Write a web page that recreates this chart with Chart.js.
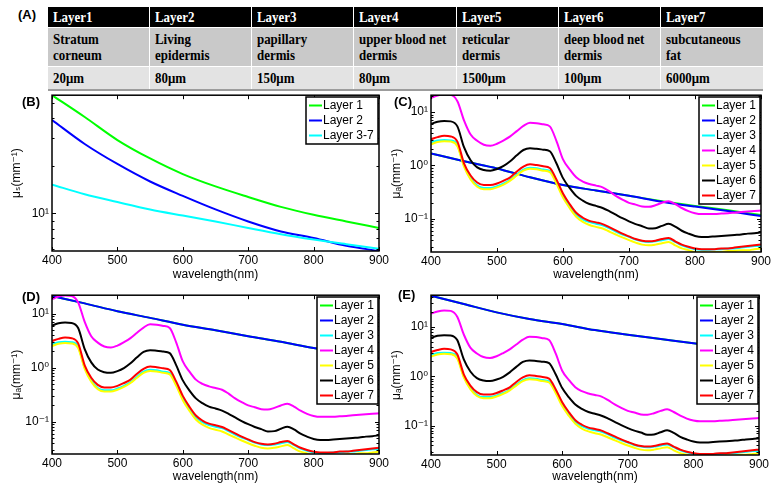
<!DOCTYPE html>
<html><head><meta charset="utf-8">
<script src="https://cdn.jsdelivr.net/npm/chart.js@4.4.0/dist/chart.umd.min.js"></script>
<style>
html,body{margin:0;padding:0;background:#fff;}
#wrap{position:relative;width:776px;height:488px;overflow:hidden;}
canvas{position:absolute;}
.lbl{position:absolute;font:bold 13px "Liberation Sans",Arial,sans-serif;line-height:13px;color:#000;z-index:5;}
#tbl{position:absolute;left:48px;top:7px;width:715px;display:grid;grid-template-columns:repeat(7,1fr);grid-template-rows:21px 39px 22px;border-bottom:2px solid #9c9c9c;}
.c{box-sizing:border-box;font:bold 15px "Liberation Serif","Times New Roman",serif;line-height:16px;padding-left:5px;display:flex;align-items:center;border-right:1px solid #fff;border-bottom:1px solid #fff;white-space:pre;overflow:hidden;}
.c span{display:inline-block;transform:scaleX(0.86);transform-origin:0 50%;white-space:pre;}
.h{background:#000;color:#fff;}
.d{background:#c9c9c9;color:#000;}
.s{background:#e3e3e3;color:#000;border-bottom:none;}
</style></head>
<body>
<div id="wrap">
  <div id="tbl"></div>
  <div class="lbl" style="left:18px;top:8px;">(A)</div>
  <div class="lbl" style="left:22px;top:95px;">(B)</div>
  <div class="lbl" style="left:394px;top:95px;">(C)</div>
  <div class="lbl" style="left:22px;top:290px;">(D)</div>
  <div class="lbl" style="left:398px;top:288px;">(E)</div>
  <canvas id="cB" width="400" height="200" style="left:0;top:85px;"></canvas>
  <canvas id="cC" width="396" height="200" style="left:380px;top:85px;"></canvas>
  <canvas id="cD" width="400" height="200" style="left:0;top:285px;"></canvas>
  <canvas id="cE" width="396" height="200" style="left:380px;top:285px;"></canvas>
</div>
<script>
// ---------- Table (A) ----------
const layerNames = ["Layer1","Layer2","Layer3","Layer4","Layer5","Layer6","Layer7"];
const layerDescs = ["Stratum\ncorneum","Living\nepidermis","papillary\ndermis","upper blood net\ndermis","reticular\ndermis","deep blood net\ndermis","subcutaneous\nfat"];
const layerThick = ["20μm","80μm","150μm","80μm","1500μm","100μm","6000μm"];

// ---------- Panel (B): scattering ----------
const wlB = [400,450,500,550,600,650,700,750,800,850,900];
const musL1 = [55.6,40.5,29.0,22.2,17.7,14.8,12.7,11.0,9.8,8.9,8.1];
const musL2 = [38.8,27.4,20.5,15.9,12.9,10.6,8.9,7.7,7.0,6.25,5.8];
const musL37 = [15.2,13.2,11.8,10.6,9.7,8.9,8.1,7.4,6.85,6.4,6.0];

// ---------- Epidermal absorption (Layer 1/2) in C, D, E ----------
const wlEpi = [400,450,500,550,600,650,700,750,800,850,900];
const muaL1C = [1.68,1.2,0.88,0.6,0.43,0.34,0.27,0.215,0.175,0.145,0.118];
const muaL2C = [1.68,1.2,0.88,0.6,0.43,0.34,0.27,0.21,0.17,0.14,0.113];
const muaEpiD = [21,15.4,11.0,8.3,6.2,4.9,3.8,3.0,2.3,1.85,1.5];
const muaEpiE = [42.6,28.9,19.6,14.4,11.4,8.6,6.95,5.68,4.64,3.85,3.2];

// ---------- Dermal / fat absorption (Layers 3-7) ----------
const wl = [400,410,420,430,440,450,460,470,480,490,500,510,520,530,540,550,560,570,580,590,600,610,620,630,640,650,660,670,680,690,700,710,720,730,740,750,760,770,780,790,800,810,820,830,840,850,860,870,880,890,900];
const muaL3 = [2.7,2.95,3.0,2.95,2.45, 1.0,0.58,0.42,0.38,0.38, 0.41,0.46,0.54,0.68,0.84, 0.91,0.89,0.84,0.79,0.49, 0.27,0.175,0.12,0.098,0.087, 0.081,0.076,0.067,0.058,0.051, 0.046,0.041,0.038,0.037,0.038, 0.04,0.042,0.037,0.032,0.029, 0.027,0.0265,0.0265,0.027,0.027, 0.028,0.028,0.029,0.03,0.031,0.031];
const muaL4 = [18.5,20.5,21.5,21,16, 7,3.8,2.9,2.45,2.35, 2.55,2.95,3.5,4.4,5.5, 6.3,6.2,5.9,5.4,2.9, 1.3,0.85,0.6,0.5,0.45, 0.42,0.39,0.33,0.27,0.23, 0.2,0.185,0.17,0.168,0.18, 0.2,0.215,0.19,0.16,0.14, 0.128,0.123,0.123,0.124,0.126, 0.128,0.131,0.134,0.137,0.14,0.143];
const muaL5 = [2.5,2.75,2.85,2.8,2.3, 0.95,0.55,0.4,0.36,0.36, 0.39,0.44,0.52,0.65,0.8, 0.87,0.85,0.8,0.75,0.46, 0.25,0.16,0.11,0.088,0.077, 0.071,0.066,0.058,0.051,0.045, 0.04,0.036,0.033,0.032,0.033, 0.035,0.037,0.032,0.028,0.026, 0.024,0.0235,0.0235,0.024,0.024, 0.025,0.025,0.026,0.026,0.027,0.028];
const muaL6 = [6.0,6.6,6.8,6.7,5.4, 2.2,1.25,0.92,0.82,0.8, 0.86,0.98,1.2,1.55,1.95, 2.1,2.05,1.98,1.85,1.1, 0.58,0.38,0.27,0.22,0.19, 0.175,0.16,0.14,0.12,0.103, 0.09,0.08,0.073,0.066,0.067, 0.074,0.081,0.072,0.06,0.053, 0.048,0.046,0.046,0.047,0.048, 0.049,0.05,0.051,0.053,0.054,0.056];
const muaL7 = [3.1,3.4,3.6,3.5,2.8, 1.1,0.65,0.48,0.43,0.43, 0.46,0.52,0.6,0.77,0.95, 1.05,1.02,0.97,0.9,0.55, 0.3,0.19,0.13,0.105,0.092, 0.086,0.08,0.07,0.061,0.053, 0.047,0.042,0.039,0.038,0.039, 0.042,0.044,0.038,0.033,0.03, 0.028,0.027,0.027,0.027,0.028, 0.028,0.029,0.03,0.031,0.032,0.033];

const xTicks = [400,500,600,700,800,900];
const layerLabels = ["Layer 1","Layer 2","Layer 3","Layer 4","Layer 5","Layer 6","Layer 7"];
const layerColors = ["#00ff00","#0000ff","#00ffff","#ff00ff","#ffff00","#000000","#ff0000"];

// build table
const tbl = document.getElementById('tbl');
[[layerNames,'h'],[layerDescs,'d'],[layerThick,'s']].forEach(([arr,cls])=>{
  arr.forEach((t,i)=>{
    const c=document.createElement('div'); c.className='c '+cls;
    if(i===arr.length-1) c.style.borderRight='none';
    const s=document.createElement('span'); s.textContent=t; c.appendChild(s); tbl.appendChild(c);
  });
});

const FONT = '"Liberation Sans", Arial, "DejaVu Sans", sans-serif';
Chart.defaults.font.family = FONT;
Chart.defaults.font.size = 12;
Chart.defaults.color = '#000';

const SUP = {'-':'⁻','0':'⁰','1':'¹','2':'²','3':'³','4':'⁴','5':'⁵','6':'⁶','7':'⁷','8':'⁸','9':'⁹'};
const pow10Label = v => { const e=Math.round(Math.log10(v)); return '10'+String(e).split('').map(c=>SUP[c]).join(''); };

const framePlugin = {
  id:'frame',
  afterDatasetsDraw(chart){
    const {ctx, chartArea:a} = chart; const x=chart.scales.x, y=chart.scales.y;
    ctx.save();
    ctx.strokeStyle='#000'; ctx.lineWidth=1;
    ctx.beginPath();
    x.ticks.forEach(t=>{ const px=Math.round(x.getPixelForValue(t.value))+0.5;
      ctx.moveTo(px,a.bottom); ctx.lineTo(px,a.bottom-4); ctx.moveTo(px,a.top); ctx.lineTo(px,a.top+4); });
    const lo=Math.floor(Math.log10(y.min)), hi=Math.ceil(Math.log10(y.max));
    for(let e=lo;e<=hi;e++) for(let m=1;m<10;m++){ const v=m*Math.pow(10,e); if(v<y.min||v>y.max) continue;
      const py=Math.round(y.getPixelForValue(v))+0.5; const L=m===1?4:2.5;
      ctx.moveTo(a.left,py); ctx.lineTo(a.left+L,py); ctx.moveTo(a.right,py); ctx.lineTo(a.right-L,py); }
    ctx.stroke();
    ctx.lineWidth=1.5; ctx.strokeRect(a.left, a.top, a.right-a.left, a.bottom-a.top);
    // legend box inside plot, top-right
    const ds = chart.data.datasets;
    ctx.font = '12px '+FONT;
    const rowH=15, lineLen=13, pad=3;
    let tw=0; ds.forEach(d=>{ tw=Math.max(tw, ctx.measureText(d.label).width); });
    const w=Math.round(pad+lineLen+1+tw+pad+1), h=ds.length*rowH+2;
    const bx=Math.round(a.right-1-w), by=Math.round(a.top+2);
    ctx.fillStyle='#fff'; ctx.fillRect(bx,by,w,h);
    ctx.lineWidth=1.5; ctx.strokeStyle='#000'; ctx.strokeRect(bx,by,w,h);
    ds.forEach((d,i)=>{
      const cy=by+1+rowH*(i+0.5);
      ctx.strokeStyle=d.borderColor; ctx.lineWidth=2;
      ctx.beginPath(); ctx.moveTo(bx+pad,cy); ctx.lineTo(bx+pad+lineLen,cy); ctx.stroke();
      ctx.fillStyle='#000'; ctx.textBaseline='middle'; ctx.textAlign='left';
      ctx.fillText(d.label, bx+pad+lineLen+1, cy+0.5);
    });
    ctx.restore();
  }
};

function pts(xs, ys){ return xs.map((x,i)=>({x:x, y:ys[i]})); }

function makePanel(p){
  const n=p.series.length;
  new Chart(document.getElementById(p.id), {
    type:'line',
    data:{ datasets: p.series.map((s,i)=>({ label:s.label, data:pts(s.xs,s.ys), borderColor:s.color, backgroundColor:s.color,
      borderWidth:2, pointRadius:0, fill:false, cubicInterpolationMode:'monotone', order:n-i })) },
    options:{
      responsive:false, animation:false, devicePixelRatio:1, events:[],
      layout:{padding:{left:0, top:p.t, right:p.w-p.r, bottom:0}},
      plugins:{legend:{display:false}, tooltip:{enabled:false}},
      scales:{
        x:{ type:'linear', min:400, max:900, bounds:'data',
            afterBuildTicks:s=>{ s.ticks = xTicks.map(v=>({value:v})); },
            ticks:{ autoSkip:false, maxRotation:0, padding:2, font:{size:12}, color:'#000' },
            grid:{display:false, drawTicks:false}, border:{display:false},
            title:{display:true, text:'wavelength(nm)', font:{size:12}, color:'#000', padding:{top:0,bottom:p.xtb}},
            afterFit:s=>{ s.height = p.h - p.b; } },
        y:{ type:'logarithmic', min:p.ymin, max:p.ymax, bounds:'data',
            afterBuildTicks:s=>{ const lo=Math.ceil(Math.log10(s.min)), hi=Math.floor(Math.log10(s.max)); const t=[]; for(let e=lo;e<=hi;e++) t.push({value:Math.pow(10,e), major:true}); s.ticks=t; },
            ticks:{ autoSkip:false, padding:3, font:{size:12}, color:'#000', callback:(v)=>pow10Label(v) },
            grid:{display:false, drawTicks:false}, border:{display:false},
            title:{display:true, text:p.ytitle, font:{size:12}, color:'#000', padding:{top:p.ytt,bottom:0}},
            afterFit:s=>{ s.width = p.l; } }
      }
    },
    plugins:[framePlugin]
  });
}

function absSeries(l1, l2, xsEpi){
  return [
    {label:layerLabels[0], color:layerColors[0], xs:xsEpi, ys:l1},
    {label:layerLabels[1], color:layerColors[1], xs:xsEpi, ys:l2},
    {label:layerLabels[2], color:layerColors[2], xs:wl, ys:muaL3},
    {label:layerLabels[3], color:layerColors[3], xs:wl, ys:muaL4},
    {label:layerLabels[4], color:layerColors[4], xs:wl, ys:muaL5},
    {label:layerLabels[5], color:layerColors[5], xs:wl, ys:muaL6},
    {label:layerLabels[6], color:layerColors[6], xs:wl, ys:muaL7}
  ];
}

makePanel({id:'cB', w:400, h:200, l:52, t:7, r:379, b:166, ymin:5.8, ymax:55.6, ytitle:'μₛ(mm⁻¹)', xtb:3, ytt:9,
  series:[
    {label:'Layer 1', color:layerColors[0], xs:wlB, ys:musL1},
    {label:'Layer 2', color:layerColors[1], xs:wlB, ys:musL2},
    {label:'Layer 3-7', color:layerColors[2], xs:wlB, ys:musL37}
  ]});
makePanel({id:'cC', w:396, h:200, l:51, t:7, r:381, b:167, ymin:0.024, ymax:20.7, ytitle:'μₐ(mm⁻¹)', xtb:3, ytt:9,
  series:absSeries(muaL1C, muaL2C, wlEpi)});
makePanel({id:'cD', w:400, h:200, l:52, t:10, r:379, b:169, ymin:0.0253, ymax:21.8, ytitle:'μₐ(mm⁻¹)', xtb:1, ytt:9,
  series:absSeries(muaEpiD, muaEpiD, wlEpi)});
makePanel({id:'cE', w:396, h:200, l:51, t:10, r:379, b:170, ymin:0.0257, ymax:43.6, ytitle:'μₐ(mm⁻¹)', xtb:1.5, ytt:9,
  series:absSeries(muaEpiE, muaEpiE, wlEpi)});
</script>
</body></html>
